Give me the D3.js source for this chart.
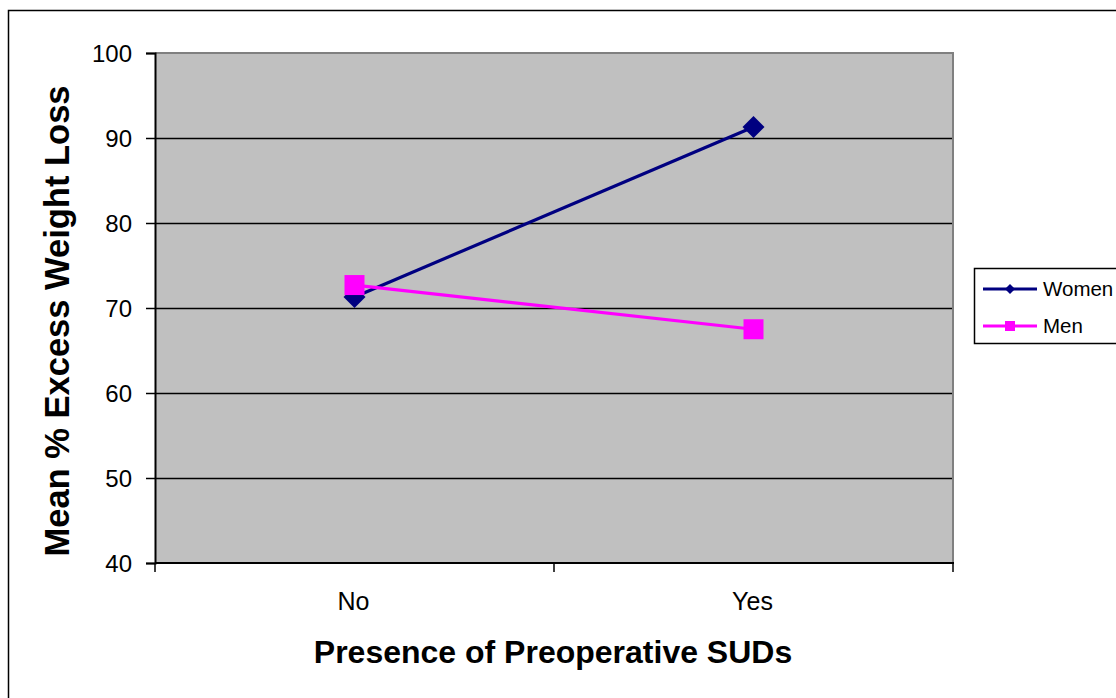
<!DOCTYPE html>
<html>
<head>
<meta charset="utf-8">
<script src="https://cdn.jsdelivr.net/npm/d3@7"></script>
<style>
  html, body { margin: 0; padding: 0; background: #fff; }
  svg { display: block; font-family: "Liberation Sans", Arial, sans-serif; }
</style>
</head>
<body>
<svg id="chart" width="1116" height="698"></svg>
<script>
const categories = ["No", "Yes"];
const seriesNames = ["Women", "Men"];
const women = [71.3, 91.3];
const men = [72.7, 67.5];
const yTicks = [40, 50, 60, 70, 80, 90, 100];
const xTitle = "Presence of Preoperative SUDs";
const yTitle = "Mean % Excess Weight Loss";

const svg = d3.select("#chart");
const W = 1116, H = 698;
const plot = { left: 155, right: 953, top: 53, bottom: 563 };

// outer border (extends beyond canvas on right/bottom)
svg.append("rect")
  .attr("x", 8.5).attr("y", 10.5)
  .attr("width", W + 20).attr("height", H + 20)
  .attr("fill", "#fff").attr("stroke", "#000").attr("stroke-width", 1.5);

const x = d3.scaleBand().domain(categories).range([plot.left, plot.right]).padding(0);
const y = d3.scaleLinear().domain([40, 100]).range([plot.bottom, plot.top]);

// plot background
svg.append("rect")
  .attr("x", plot.left).attr("y", plot.top)
  .attr("width", plot.right - plot.left).attr("height", plot.bottom - plot.top)
  .attr("fill", "#C0C0C0");

// gridlines
svg.append("g").selectAll("line")
  .data(yTicks.filter(d => d > 40 && d < 100))
  .join("line")
  .attr("x1", plot.left).attr("x2", plot.right)
  .attr("y1", d => Math.round(y(d)) + 0.5).attr("y2", d => Math.round(y(d)) + 0.5)
  .attr("stroke", "#000").attr("stroke-width", 1.5);

// top & right gray border
svg.append("path")
  .attr("d", `M${plot.left},${plot.top}H${plot.right}V${plot.bottom}`)
  .attr("fill", "none").attr("stroke", "#808080").attr("stroke-width", 2);

// y axis
const yAxis = d3.axisLeft(y).tickValues(yTicks).tickSize(9).tickPadding(0);
const gy = svg.append("g").attr("transform", `translate(${plot.left},0)`).call(yAxis);
gy.attr("font-size", null).attr("font-family", null);
gy.select(".domain").attr("stroke", "#000").attr("stroke-width", 2);
gy.selectAll(".tick line").attr("stroke", "#000").attr("stroke-width", 1.5);
gy.selectAll(".tick text")
  .attr("x", -23).attr("dy", "0.36em")
  .attr("font-size", 24).attr("fill", "#000");

// x axis: ticks at band edges
const xAxisG = svg.append("g").attr("transform", `translate(0,${plot.bottom})`);
xAxisG.append("line")
  .attr("x1", plot.left).attr("x2", plot.right + 1)
  .attr("y1", 0).attr("y2", 0)
  .attr("stroke", "#000").attr("stroke-width", 2);
const edges = categories.map(c => x(c)).concat([x(categories[categories.length - 1]) + x.bandwidth()]);
xAxisG.selectAll("line.tk").data(edges).join("line").attr("class", "tk")
  .attr("x1", d => d).attr("x2", d => d).attr("y1", 0).attr("y2", 9)
  .attr("stroke", "#000").attr("stroke-width", 1.5);
xAxisG.selectAll("text").data(categories).join("text")
  .attr("x", d => x(d) + x.bandwidth() / 2 - 1)
  .attr("y", 47)
  .attr("text-anchor", "middle").attr("font-size", 25).attr("fill", "#000")
  .text(d => d);

// axis titles
svg.append("text")
  .attr("x", 553).attr("y", 663)
  .attr("text-anchor", "middle").attr("font-size", 32).attr("font-weight", "bold")
  .text(xTitle);
svg.append("text")
  .attr("transform", "translate(69,321) rotate(-90)")
  .attr("text-anchor", "middle").attr("font-size", 34.5).attr("font-weight", "bold")
  .text(yTitle);

// series
const cx = d => x(d) + x.bandwidth() / 2;
const line = d3.line().x(d => cx(d.cat)).y(d => y(d.v));
const series = [
  { name: seriesNames[0], values: women, color: "#000080", symbol: "diamond" },
  { name: seriesNames[1], values: men, color: "#FF00FF", symbol: "square" }
];

function drawMarker(g, s, px, py, size) {
  if (s.symbol === "diamond") {
    g.append("path")
      .attr("d", `M${px},${py - size}L${px + size},${py}L${px},${py + size}L${px - size},${py}Z`)
      .attr("fill", s.color);
  } else {
    g.append("rect")
      .attr("x", px - size).attr("y", py - size)
      .attr("width", size * 2).attr("height", size * 2)
      .attr("fill", s.color);
  }
}

series.forEach(s => {
  const pts = categories.map((c, i) => ({ cat: c, v: s.values[i] }));
  const g = svg.append("g");
  g.append("path").attr("d", line(pts))
    .attr("fill", "none").attr("stroke", s.color).attr("stroke-width", 3.2);
  pts.forEach(p => drawMarker(g, s, cx(p.cat), y(p.v), s.symbol === "diamond" ? 11 : 10));
});

// legend
const lg = svg.append("g");
lg.append("rect")
  .attr("x", 974.5).attr("y", 268.5).attr("width", 200).attr("height", 75)
  .attr("fill", "#fff").attr("stroke", "#000").attr("stroke-width", 1.5);
series.forEach((s, i) => {
  const ly = 289 + i * 37;
  lg.append("line").attr("x1", 983).attr("x2", 1037).attr("y1", ly).attr("y2", ly)
    .attr("stroke", s.color).attr("stroke-width", 3);
  drawMarker(lg, s, 1010, ly, 5);
  lg.append("text").attr("x", 1043).attr("y", ly).attr("dy", "0.36em")
    .attr("font-size", 20.5).attr("fill", "#000").text(s.name);
});
</script>
</body>
</html>
